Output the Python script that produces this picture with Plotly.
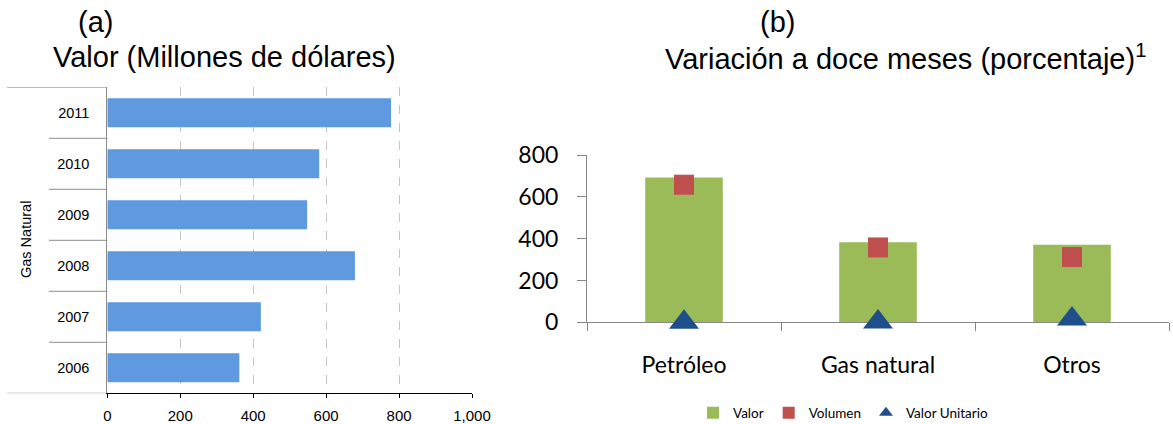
import plotly.graph_objects as go

# ---- data ----
years = ["2006", "2007", "2008", "2009", "2010", "2011"]
gas_valor = [362, 421, 679, 548, 581, 778]

categorias = ["Petróleo", "Gas natural", "Otros"]
valor = [693, 383, 371]
volumen = [658, 358, 312]
valor_unitario = [0, 1, 16]

W, H = 1173, 424
def px(x):
    return x / W
def py(y):
    return 1 - y / H

fig = go.Figure()

# (a) horizontal bars
fig.add_trace(go.Bar(
    x=gas_valor, y=years, orientation="h",
    marker=dict(color="#5F99E0", line=dict(width=0)),
    showlegend=False, xaxis="x", yaxis="y"))

# (b)
fig.add_trace(go.Bar(
    x=categorias, y=valor, name="Valor", width=0.4,
    marker=dict(color="#9BBB59", line=dict(width=0)),
    xaxis="x2", yaxis="y2"))
fig.add_trace(go.Scatter(
    x=categorias, y=volumen, name="Volumen", mode="markers",
    marker=dict(symbol="square", size=20, color="#C0504D", line=dict(width=0)),
    cliponaxis=False, xaxis="x2", yaxis="y2"))
fig.add_trace(go.Scatter(
    x=categorias, y=valor_unitario, name="Valor Unitario", mode="markers",
    marker=dict(symbol="triangle-up", size=26, color="#1F4F8A", line=dict(width=0)),
    cliponaxis=False, xaxis="x2", yaxis="y2"))

arial = "Liberation Sans, Arial, sans-serif"
lato = "Lato, sans-serif"
grey = "#868686"

# divider lines for left category axis
shapes = []
n = len(years)
for k in range(n + 1):
    x0 = px(7) if k in (0, n) else px(49)
    shapes.append(dict(type="line", xref="paper", yref="y",
                       x0=x0, x1=px(107.3), y0=k - 0.5, y1=k - 0.5,
                       line=dict(color="#8c8c8c", width=1)))

annotations = [
    dict(text="(a)", x=px(95.5), y=py(22), xref="paper", yref="paper",
         showarrow=False, xanchor="center", yanchor="middle",
         font=dict(family=arial, size=29, color="black")),
    dict(text="Valor (Millones de dólares)", x=px(224.5), y=py(57), xref="paper", yref="paper",
         showarrow=False, xanchor="center", yanchor="middle",
         font=dict(family=arial, size=29, color="black")),
    dict(text="(b)", x=px(777), y=py(22), xref="paper", yref="paper",
         showarrow=False, xanchor="center", yanchor="middle",
         font=dict(family=arial, size=29, color="black")),
    dict(text="Variación a doce meses (porcentaje)<sup>1</sup>", x=px(663), y=py(57),
         xref="paper", yref="paper", showarrow=False, xanchor="left", yanchor="middle",
         font=dict(family=arial, size=29, color="black")),
    dict(text="Gas Natural", x=px(26), y=py(240), xref="paper", yref="paper",
         showarrow=False, textangle=-90, xanchor="center", yanchor="middle",
         font=dict(family=arial, size=14.5, color="black")),
]

fig.update_layout(
    width=W, height=H,
    margin=dict(l=0, r=0, t=0, b=0, autoexpand=False),
    paper_bgcolor="white", plot_bgcolor="white",
    bargap=0.43,
    shapes=shapes,
    annotations=annotations,
    xaxis=dict(domain=[px(107.3), px(472)], anchor="y", range=[0, 1000], dtick=200,
               tickformat=",", showgrid=True, gridcolor="#c4c4c4", griddash="dash",
               gridwidth=1, zeroline=False, showline=True, linecolor="black", linewidth=1,
               ticks="outside", ticklen=4, tickcolor="black", ticklabelstandoff=5,
               automargin=False,
               tickfont=dict(family=arial, size=15, color="black"), fixedrange=True),
    yaxis=dict(domain=[py(393.3), py(87.3)], anchor="x", type="category",
               categoryorder="array", categoryarray=years, range=[-0.5, n - 0.5],
               showline=True, linecolor="#8c8c8c", linewidth=1, showgrid=False,
               ticks="", ticklabelstandoff=14, automargin=False,
               tickfont=dict(family=arial, size=14.5, color="black")),
    xaxis2=dict(domain=[px(587), px(1169)], anchor="y2", type="category",
                range=[-0.5, 2.5], showline=True, linecolor=grey, linewidth=1,
                ticks="outside", tickson="boundaries", ticklen=8, tickcolor=grey,
                showgrid=False, layer="below traces", ticklabelstandoff=22,
                automargin=False,
                tickfont=dict(family=lato, size=23, color="black")),
    yaxis2=dict(domain=[py(322.3), py(155)], anchor="x2", range=[0, 800], dtick=200,
                showline=True, linecolor=grey, linewidth=1, showgrid=False, zeroline=False,
                ticks="outside", ticklen=9, tickcolor=grey, ticklabelstandoff=14,
                layer="below traces", automargin=False,
                tickfont=dict(family=lato, size=23, color="black")),
    legend=dict(orientation="h", x=px(843), xanchor="center", y=py(413), yanchor="middle",
                font=dict(family=lato, size=13.5, color="black"), itemsizing="constant",
                bgcolor="rgba(0,0,0,0)", traceorder="normal"),
)

fig.write_html("out.html")
